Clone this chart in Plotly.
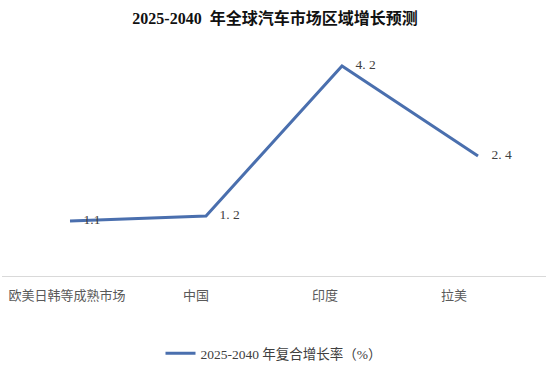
import plotly.graph_objects as go

categories = ["欧美日韩等成熟市场", "中国", "印度", "拉美"]
values = [1.1, 1.2, 4.2, 2.4]
value_labels = ["1.1", "1. 2", "4. 2", "2. 4"]
series_name = "2025-2040 年复合增长率（%）"
title = "2025-2040  年全球汽车市场区域增长预测"

SERIF = "Liberation Serif, Noto Sans CJK SC, serif"
CJK = "Noto Sans CJK SC, sans-serif"

fig = go.Figure()
fig.add_trace(go.Scatter(
    x=list(range(len(categories))), y=values, mode="lines+text", name=series_name,
    text=["    " + t for t in value_labels], textposition="middle right",
    textfont=dict(family=SERIF, size=13.5, color="#404040"),
    line=dict(color="#4A6FAE", width=3),
    cliponaxis=False,
))
# invisible trace so the category label axis renders
fig.add_trace(go.Scatter(
    x=list(range(len(categories))), y=values, xaxis="x2", mode="markers",
    marker=dict(opacity=0), showlegend=False, hoverinfo="skip",
))

fig.update_layout(
    width=550, height=375,
    paper_bgcolor="white", plot_bgcolor="white",
    margin=dict(l=2, r=4, t=26, b=99, autoexpand=False),
    title=dict(text="<b>" + title.replace("  ", "&nbsp; ") + "</b>", x=0.5, xanchor="center", y=0.952,
               yref="container", yanchor="middle",
               font=dict(family=SERIF, size=16, color="#111111")),
    xaxis=dict(showgrid=False, showline=True, linecolor="#D9D9D9", linewidth=1,
               ticks="", showticklabels=False, range=[-0.5, 3.5], automargin=False,
               zeroline=False),
    xaxis2=dict(overlaying="x", anchor="y", side="bottom", showgrid=False, showline=False,
                zeroline=False, ticks="", tickmode="array",
                tickvals=list(range(len(categories))), ticktext=categories,
                range=[-0.504, 3.713], automargin=False, ticklabelstandoff=10,
                tickfont=dict(family=CJK, size=13, color="#595959")),
    yaxis=dict(range=[0, 5], showgrid=False, showticklabels=False, zeroline=False,
               showline=False, automargin=False),
    showlegend=True,
    legend=dict(orientation="h", x=0.5, xanchor="center", y=-0.31, yanchor="middle",
                font=dict(family=SERIF, size=13.5, color="#404040")),
)

fig.write_html("out.html", config={"displayModeBar": False},
               post_script="document.body.style.margin='0';")
